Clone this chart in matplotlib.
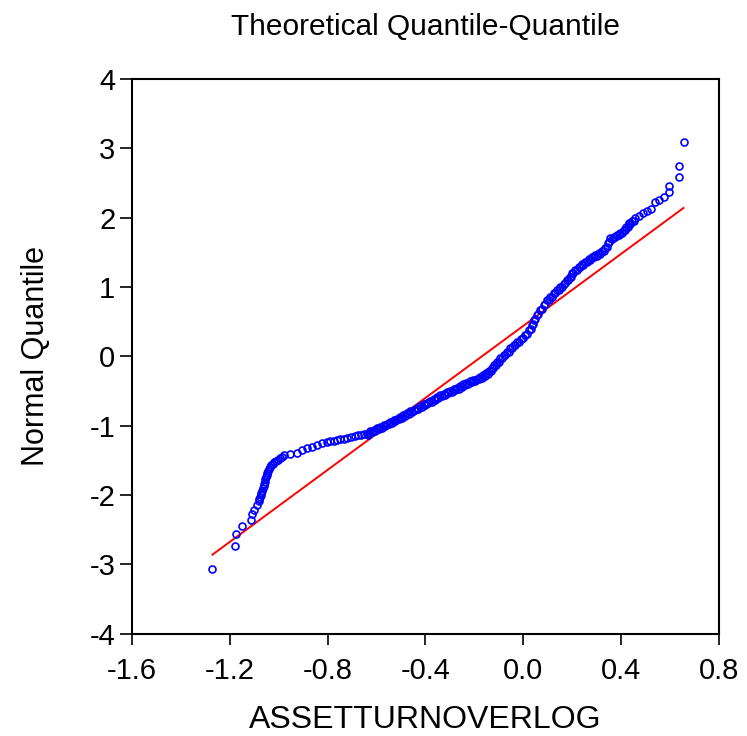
import numpy as np
import matplotlib.pyplot as plt

plt.rcParams['font.family'] = ['Liberation Sans', 'DejaVu Sans']
plt.rcParams['axes.unicode_minus'] = False

# sorted sample (x) against normal quantile (y)
qq_x = [-1.271, -1.179, -1.176, -1.150, -1.112, -1.109, -1.100, -1.090,
        -1.082, -1.079, -1.076, -1.073, -1.071, -1.068, -1.065, -1.062,
        -1.060, -1.057, -1.055, -1.052, -1.049, -1.047, -1.044, -1.040,
        -1.035, -1.030, -1.024, -1.018, -1.011, -1.003, -0.994, -0.986,
        -0.978, -0.956, -0.926, -0.905, -0.885, -0.865, -0.844, -0.824,
        -0.803, -0.790, -0.776, -0.762, -0.749, -0.735, -0.722, -0.706,
        -0.690, -0.677, -0.664, -0.652, -0.640, -0.633, -0.626, -0.612,
        -0.598, -0.585, -0.571, -0.558, -0.544, -0.530, -0.517, -0.503,
        -0.490, -0.476, -0.463, -0.449, -0.436, -0.422, -0.408, -0.395,
        -0.381, -0.367, -0.354, -0.340, -0.326, -0.313, -0.299, -0.285,
        -0.272, -0.258, -0.245, -0.233, -0.218, -0.204, -0.190, -0.177,
        -0.163, -0.151, -0.139, -0.128, -0.118, -0.108, -0.095, -0.081,
        -0.067, -0.053, -0.040, -0.026, -0.009, 0.008, 0.025, 0.034,
        0.042, 0.056, 0.069, 0.083, 0.097, 0.110, 0.124, 0.138,
        0.151, 0.165, 0.179, 0.189, 0.199, 0.212, 0.226, 0.240,
        0.253, 0.267, 0.281, 0.295, 0.308, 0.322, 0.335, 0.346,
        0.356, 0.370, 0.383, 0.397, 0.410, 0.421, 0.431, 0.445,
        0.458, 0.474, 0.490, 0.506, 0.522, 0.537, 0.555, 0.574,
        0.594, 0.597, 0.638, 0.638, 0.655,
        # second pass over the dense middle band
        -0.636, -0.620, -0.605, -0.592, -0.578, -0.565, -0.551, -0.537,
        -0.523, -0.510, -0.496, -0.483, -0.469, -0.456, -0.442, -0.429,
        -0.415, -0.401, -0.388, -0.374, -0.360, -0.347, -0.333, -0.319,
        -0.306, -0.292, -0.278, -0.265, -0.251, -0.239, -0.225, -0.211,
        -0.197, -0.183, -0.170, -0.157, -0.145, -0.133, -0.123, -0.113,
        -0.101, -0.088, -0.074, -0.060, -0.047, -0.033, -0.018, -0.001,
        0.016, 0.030, 0.038, 0.049, 0.062, 0.076, 0.090, 0.104,
        0.117, 0.131, 0.145, 0.158, 0.172, 0.184, 0.194, 0.205,
        0.219, 0.233, 0.246, 0.260, 0.274, 0.288, 0.301, 0.315,
        0.328, 0.341, 0.351, 0.363, 0.376, 0.390, 0.404, 0.416,
        0.426, 0.438, 0.451]
qq_y = [-3.070, -2.735, -2.560, -2.446, -2.354, -2.280, -2.210, -2.147,
        -2.090, -2.060, -2.027, -2.000, -1.970, -1.940, -1.906, -1.875,
        -1.844, -1.810, -1.776, -1.745, -1.714, -1.680, -1.652, -1.620,
        -1.594, -1.570, -1.546, -1.527, -1.508, -1.490, -1.473, -1.450,
        -1.430, -1.411, -1.387, -1.353, -1.329, -1.306, -1.281, -1.257,
        -1.234, -1.225, -1.219, -1.205, -1.195, -1.185, -1.176, -1.160,
        -1.147, -1.140, -1.133, -1.122, -1.113, -1.100, -1.075, -1.057,
        -1.037, -1.017, -0.993, -0.970, -0.945, -0.921, -0.897, -0.873,
        -0.846, -0.818, -0.791, -0.767, -0.743, -0.719, -0.693, -0.668,
        -0.642, -0.616, -0.590, -0.564, -0.542, -0.520, -0.498, -0.475,
        -0.452, -0.430, -0.405, -0.382, -0.362, -0.343, -0.320, -0.296,
        -0.271, -0.240, -0.208, -0.175, -0.127, -0.079, -0.031, 0.017,
        0.065, 0.114, 0.161, 0.209, 0.257, 0.306, 0.378, 0.450,
        0.522, 0.595, 0.667, 0.740, 0.811, 0.860, 0.908, 0.955,
        1.003, 1.050, 1.100, 1.148, 1.196, 1.244, 1.292, 1.328,
        1.364, 1.400, 1.436, 1.460, 1.485, 1.520, 1.557, 1.630,
        1.701, 1.725, 1.749, 1.785, 1.821, 1.870, 1.918, 1.955,
        1.990, 2.030, 2.071, 2.095, 2.120, 2.230, 2.260, 2.293,
        2.374, 2.456, 2.581, 2.749, 3.095,
        -1.128, -1.088, -1.072, -1.051, -1.030, -1.007, -0.982, -0.957,
        -0.934, -0.910, -0.884, -0.856, -0.830, -0.805, -0.780, -0.755,
        -0.730, -0.705, -0.679, -0.653, -0.627, -0.601, -0.577, -0.555,
        -0.533, -0.511, -0.488, -0.465, -0.442, -0.418, -0.397, -0.377,
        -0.356, -0.332, -0.308, -0.280, -0.248, -0.217, -0.174, -0.127,
        -0.079, -0.031, 0.018, 0.068, 0.115, 0.163, 0.210, 0.258,
        0.318, 0.390, 0.464, 0.536, 0.608, 0.681, 0.753, 0.814,
        0.862, 0.908, 0.958, 1.004, 1.053, 1.102, 1.150, 1.198,
        1.246, 1.288, 1.324, 1.360, 1.396, 1.426, 1.450, 1.480,
        1.516, 1.573, 1.646, 1.691, 1.715, 1.745, 1.781, 1.823,
        1.872, 1.915, 1.950]

# theoretical normal line endpoints
line_x = [-1.271, 0.655]
line_y = [-2.86, 2.14]

x_ticks = [-1.6, -1.2, -0.8, -0.4, 0.0, 0.4, 0.8]
y_ticks = [-4, -3, -2, -1, 0, 1, 2, 3, 4]

fig = plt.figure(figsize=(7.47, 7.36), dpi=100, facecolor="white")
ax = fig.add_axes([0.1767, 0.139, 0.7858, 0.7537])

ax.plot(line_x, line_y, color="red", lw=1.4, zorder=2)
ax.plot(qq_x, qq_y, ls="none", marker="o", ms=5, mfc="none",
        mec="#0000ff", mew=1.2, zorder=3)

ax.set_xlim(-1.6, 0.8)
ax.set_ylim(-4, 4)
ax.set_xticks(x_ticks)
ax.set_xticklabels(["%.1f" % v for v in x_ticks])
ax.set_yticks(y_ticks)
ax.set_yticklabels([str(v) for v in y_ticks])

for s in ax.spines.values():
    s.set_linewidth(1.5)
ax.tick_params(axis="x", direction="out", length=8, width=1.2,
               labelsize=21, pad=9)
ax.tick_params(axis="y", direction="out", length=9, width=1.2,
               labelsize=21, pad=3)

ax.set_title("Theoretical Quantile-Quantile", fontsize=21.5, pad=32)
ax.set_xlabel("ASSETTURNOVERLOG", fontsize=23, labelpad=14)
ax.set_ylabel("Normal Quantile", fontsize=22, labelpad=28)

plt.savefig("out.png", dpi=100)
